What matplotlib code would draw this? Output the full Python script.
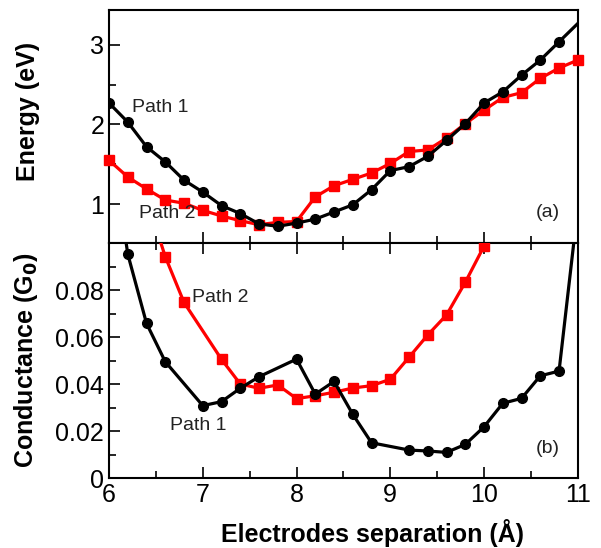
import numpy as np
import matplotlib
matplotlib.use('Agg')
import matplotlib.pyplot as plt
from matplotlib.ticker import MultipleLocator

plt.rcParams['font.family'] = ['Liberation Sans', 'DejaVu Sans']

# energy panel (a)
sep_energy = np.round(np.arange(6.0, 11.01, 0.2), 1)
energy_path1 = [2.27, 2.03, 1.72, 1.53, 1.30, 1.15, 0.98, 0.88, 0.75, 0.72, 0.76,
                0.81, 0.90, 0.99, 1.18, 1.42, 1.47, 1.60, 1.80, 2.01, 2.27, 2.41,
                2.62, 2.81, 3.04, 3.27]
energy_path2 = [1.55, 1.34, 1.19, 1.05, 1.01, 0.92, 0.85, 0.79, 0.74, 0.77, 0.78,
                1.09, 1.23, 1.31, 1.39, 1.51, 1.66, 1.68, 1.83, 2.01, 2.18, 2.34,
                2.40, 2.58, 2.71, 2.81]

# conductance panel (b)
sep_cond1 = [6.0, 6.2, 6.4, 6.6, 7.0, 7.2, 7.4, 7.6, 8.0, 8.2, 8.4, 8.6, 8.8,
             9.2, 9.4, 9.6, 9.8, 10.0, 10.2, 10.4, 10.6, 10.8, 11.0]
cond_path1 = [0.150, 0.0953, 0.0658, 0.0495, 0.0308, 0.0325, 0.0382, 0.0431,
              0.0506, 0.0357, 0.0411, 0.0271, 0.0150, 0.0119, 0.0115, 0.0109,
              0.0143, 0.0218, 0.0318, 0.0339, 0.0435, 0.0455, 0.115]
sep_cond2 = [6.4, 6.6, 6.8, 7.2, 7.4, 7.6, 7.8, 8.0, 8.2, 8.4, 8.6, 8.8, 9.0,
             9.2, 9.4, 9.6, 9.8, 10.0]
cond_path2 = [0.119, 0.0942, 0.0747, 0.0505, 0.0400, 0.0382, 0.0396, 0.0338,
              0.0350, 0.0365, 0.0383, 0.0393, 0.0420, 0.0514, 0.0609, 0.0694,
              0.0833, 0.0987]

fig = plt.figure(figsize=(6.01, 5.48), dpi=100)
ax1 = fig.add_axes([0.1814, 0.5566, 0.780, 0.4252])
ax2 = fig.add_axes([0.1814, 0.1277, 0.780, 0.4288])

lw = 2.3
ms = 7

ax1.plot(sep_energy, energy_path2, color='red', marker='s', ms=ms, lw=lw,
         clip_on=False, zorder=3)
ax1.plot(sep_energy, energy_path1, color='black', marker='o', ms=ms, lw=lw,
         markevery=list(range(len(sep_energy) - 1)), zorder=4)

ax2.plot(sep_cond2, cond_path2, color='red', marker='s', ms=ms, lw=lw, zorder=3)
ax2.plot(sep_cond1, cond_path1, color='black', marker='o', ms=ms, lw=lw, zorder=4)

ax1.set_xlim(6, 11)
ax1.set_ylim(0.51, 3.44)
ax2.set_xlim(6, 11)
ax2.set_ylim(0, 0.1)

for ax in (ax1, ax2):
    for s in ax.spines.values():
        s.set_linewidth(1.5)
    ax.xaxis.set_major_locator(MultipleLocator(1))
    ax.xaxis.set_minor_locator(MultipleLocator(0.5))
    ax.tick_params(which='both', direction='in', right=False, labelsize=18,
                   width=1.2)
    ax.tick_params(which='major', length=8)
    ax.tick_params(which='minor', length=5)

ax1.yaxis.set_major_locator(MultipleLocator(1))
ax1.yaxis.set_minor_locator(MultipleLocator(0.5))
ax1.tick_params(axis='x', labelbottom=False, top=False)
ax1.tick_params(axis='x', which='minor', top=False)

ax2.yaxis.set_major_locator(MultipleLocator(0.02))
ax2.yaxis.set_minor_locator(MultipleLocator(0.01))
ax2.set_yticks([0, 0.02, 0.04, 0.06, 0.08])
ax2.set_yticklabels(['0', '0.02', '0.04', '0.06', '0.08'])
ax2.tick_params(axis='x', which='both', top=True)

ax1.set_ylabel('Energy (eV)', fontsize=18, fontweight='bold')
ax2.set_ylabel('Conductance (G$_\\mathbf{0}$)', fontsize=18, fontweight='bold')
ax1.yaxis.set_label_coords(-0.148, 0.565)
ax2.yaxis.set_label_coords(-0.148, 0.5)
ax2.set_xlabel('Electrodes separation (Å)', fontsize=18, fontweight='bold',
               labelpad=9, x=0.562)

txt = '#222222'
ax1.text(6.25, 2.16, 'Path 1', fontsize=14, color=txt)
ax1.text(6.32, 0.82, 'Path 2', fontsize=14, color=txt)
ax1.text(10.55, 0.84, '(a)', fontsize=14, color=txt)
ax2.text(6.89, 0.0749, 'Path 2', fontsize=14, color=txt)
ax2.text(6.65, 0.0204, 'Path 1', fontsize=14, color=txt)
ax2.text(10.55, 0.0106, '(b)', fontsize=14, color=txt)

plt.savefig('out.png', dpi=100)
